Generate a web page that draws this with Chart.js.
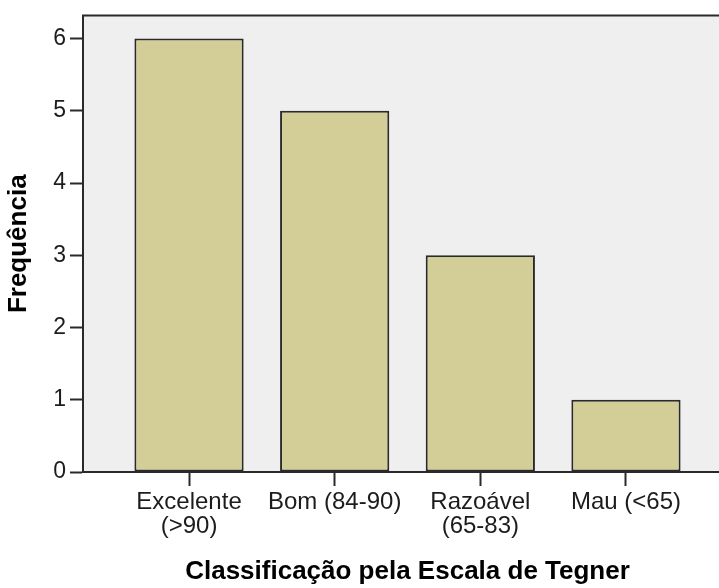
<!DOCTYPE html>
<html lang="pt">
<head>
    <meta charset="UTF-8">
    <script src="https://cdn.jsdelivr.net/npm/chart.js"></script>
    <title>Classificação pela Escala de Tegner</title>
    <style>
        html, body { margin: 0; padding: 0; background: #fff; overflow: hidden; }
        #wrap { position: absolute; left: 0; top: 0; width: 740px; height: 588px; }
    </style>
</head>
<body>
    <div id="wrap">
        <canvas id="tegnerChart" width="740" height="588"></canvas>
    </div>

<script>
// data
const categories = [
    ['Excelente', '(>90)'],
    ['Bom (84-90)'],
    ['Razoável', '(65-83)'],
    ['Mau (<65)']
];
const frequencies = [6, 5, 3, 1];
const yTicks = [0, 1, 2, 3, 4, 5, 6];

const xTitle = 'Classificação pela Escala de Tegner';
const yTitle = 'Frequência';

const fontFamily = '"Liberation Sans", Arial, sans-serif';
const inkColor = '#1c1c1c';
const frameColor = '#2a2a2a';

// grey plot area + black frame, like SPSS output
const plotFrame = {
    id: 'plotFrame',
    beforeDatasetsDraw(chart) {
        const { ctx, chartArea: a } = chart;
        ctx.save();
        ctx.fillStyle = '#efefef';
        ctx.fillRect(a.left, a.top, a.right - a.left, a.bottom - a.top);
        ctx.restore();
    },
    afterDatasetsDraw(chart) {
        const { ctx, chartArea: a } = chart;
        ctx.save();
        ctx.strokeStyle = frameColor;
        ctx.lineWidth = 2;
        ctx.strokeRect(a.left, a.top, a.right - a.left, a.bottom - a.top);
        ctx.restore();
    }
};

const ctx = document.getElementById('tegnerChart').getContext('2d');
new Chart(ctx, {
    type: 'bar',
    data: {
        datasets: [{
            data: frequencies.map((v, i) => ({ x: i, y: v })),
            backgroundColor: '#d3cd97',
            borderColor: '#2a2a2a',
            borderWidth: 2,
            borderSkipped: false,
            categoryPercentage: 1,
            barPercentage: 0.75
        }]
    },
    options: {
        responsive: false,
        animation: false,
        layout: { padding: { top: 14, right: 8, left: 0, bottom: 0 } },
        plugins: {
            legend: { display: false },
            tooltip: { enabled: false }
        },
        scales: {
            x: {
                type: 'linear',
                offset: false,
                min: -0.728,
                max: 3.728,
                afterBuildTicks(scale) {
                    scale.ticks = categories.map((c, i) => ({ value: i }));
                },
                afterFit(scale) { scale.height = 116; },
                grid: {
                    offset: false,
                    drawOnChartArea: false,
                    drawTicks: true,
                    tickLength: 14,
                    tickWidth: 2,
                    tickColor: frameColor
                },
                border: { display: true, color: frameColor, width: 2 },
                ticks: {
                    autoSkip: false,
                    maxRotation: 0,
                    padding: 4,
                    color: inkColor,
                    font: { family: fontFamily, size: 24, lineHeight: 1.0 },
                    callback: (v) => categories[v]
                },
                title: {
                    display: true,
                    text: xTitle,
                    color: '#000',
                    font: { family: fontFamily, size: 26, weight: 'bold' },
                    padding: { top: 0, bottom: 1 }
                }
            },
            y: {
                min: 0,
                max: 6.32,
                afterBuildTicks(scale) {
                    scale.ticks = yTicks.map(v => ({ value: v }));
                },
                afterFit(scale) { scale.width = 83; },
                grid: {
                    drawOnChartArea: false,
                    drawTicks: true,
                    tickLength: 13,
                    tickWidth: 2,
                    tickColor: frameColor
                },
                border: { display: true, color: frameColor, width: 2 },
                ticks: {
                    padding: 4,
                    color: inkColor,
                    font: { family: fontFamily, size: 23, lineHeight: 1 }
                },
                title: {
                    display: true,
                    text: yTitle,
                    color: '#000',
                    font: { family: fontFamily, size: 26, weight: 'bold' },
                    padding: { top: 3, bottom: 0 }
                }
            }
        }
    },
    plugins: [plotFrame]
});
</script>
</body>
</html>
